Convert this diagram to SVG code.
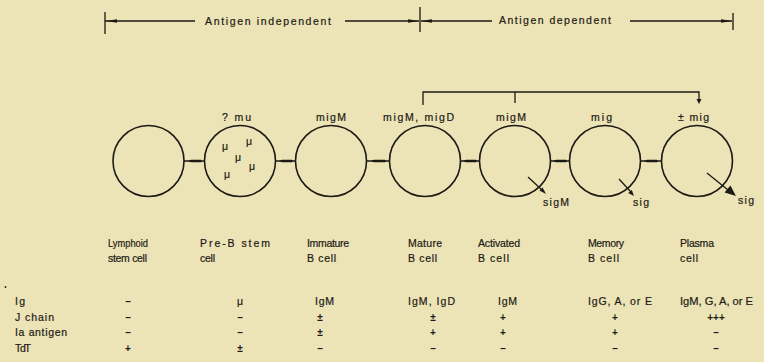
<svg xmlns="http://www.w3.org/2000/svg" width="764" height="362" viewBox="0 0 764 362">
  <style>
    text { font-family: "Liberation Sans", Arial, sans-serif; font-size: 10.5px; fill: #1c1a14; stroke: #1c1a14; stroke-width: 0.2; }
    .cell { fill: none; stroke: #1c1a14; stroke-width: 1.6; }
    .ln { fill: none; stroke: #1c1a14; stroke-width: 1.3; }
    .ink { fill: #1c1a14; stroke: none; }
    .mid { text-anchor: middle; }
    .sign { font-size: 10px; font-weight: bold; text-anchor: middle; stroke: none; }
  </style>
  <rect width="764" height="362" fill="#ECE3B6"/>

  <!-- phase scale across the top -->
  <g id="phase-scale">
    <path class="ln" d="M105,12 V34 M105,21 H195 M345,21 H419 M420,7 V32 M421,21 H492 M630,21 H732 M733,13 V30"/>
    <polygon class="ink" points="106,21 117,19.3 117,22.7"/>
    <polygon class="ink" points="419,21 408,19.3 408,22.7"/>
    <polygon class="ink" points="421,21 432,19.3 432,22.7"/>
    <polygon class="ink" points="732,21 721,19.3 721,22.7"/>
    <text x="205" y="24.5" textLength="126" lengthAdjust="spacing">Antigen  independent</text>
    <text x="499" y="24" textLength="112" lengthAdjust="spacing">Antigen dependent</text>
  </g>

  <!-- bracket over the antigen dependent cells -->
  <g id="bracket">
    <path class="ln" d="M423,105 V92 H699 V100 M515,92 V103"/>
    <polygon class="ink" points="696.5,99 701.5,99 699,104"/>
  </g>

  <!-- connectors between successive cells -->
  <g id="connectors">
    <path class="ln" d="M184,161 H205 M276,161 H296 M367,161 H390 M461,161 H480 M551,161 H570 M641,161 H662"/>
    <path class="ink" d="M188,161 L191,159.7 H201 L202,161 L201,162.3 H191 Z"/>
    <path class="ink" d="M279,161 L282,159.7 H292 L293,161 L292,162.3 H282 Z"/>
    <path class="ink" d="M371,161 L374,159.7 H385 L386,161 L385,162.3 H374 Z"/>
    <path class="ink" d="M463,161 L466,159.7 H476 L477,161 L476,162.3 H466 Z"/>
    <path class="ink" d="M553,161 L556,159.7 H566 L567,161 L566,162.3 H556 Z"/>
    <path class="ink" d="M644,161 L647,159.7 H657 L658,161 L657,162.3 H647 Z"/>
    <!-- secretion arrows -->
    <path class="ln" d="M528,177 L542,190"/>
    <polygon class="ink" points="546,194 539.4,190.6 542.6,187.4"/>
    <path class="ln" d="M619,179 L631,192" stroke-width="1.8"/>
    <polygon class="ink" points="634,196 628.2,193.1 631.8,189.9"/>
    <path class="ln" d="M707,173 L728,190" stroke-width="3.6"/>
    <polygon class="ink" points="736,196 724.6,192.5 730.4,185.5"/>
  </g>

  <g id="lymphoid-stem-cell">
    <circle class="cell" cx="148.5" cy="161" r="35.5"/>
    <text x="108" y="247" textLength="40" lengthAdjust="spacingAndGlyphs">Lymphoid</text>
    <text x="108" y="262" textLength="39" lengthAdjust="spacing">stem cell</text>
  </g>

  <g id="pre-b-stem-cell">
    <circle class="cell" cx="240" cy="161" r="35.5"/>
    <text x="222" y="121" textLength="29" lengthAdjust="spacing">? mu</text>
    <text class="mid" x="225" y="150">μ</text>
    <text class="mid" x="249" y="145">μ</text>
    <text class="mid" x="238" y="161">μ</text>
    <text class="mid" x="252" y="170">μ</text>
    <text class="mid" x="227" y="178">μ</text>
    <text x="200" y="247" textLength="70" lengthAdjust="spacing">Pre-B  stem</text>
    <text x="200" y="262" textLength="15" lengthAdjust="spacing">cell</text>
  </g>

  <g id="immature-b-cell">
    <circle class="cell" cx="331" cy="161" r="35.5"/>
    <text x="316" y="121" textLength="30" lengthAdjust="spacing">migM</text>
    <text x="307" y="247" textLength="42" lengthAdjust="spacing">Immature</text>
    <text x="307" y="262" textLength="29" lengthAdjust="spacing">B cell</text>
  </g>

  <g id="mature-b-cell">
    <circle class="cell" cx="425" cy="161" r="35.5"/>
    <text x="383" y="121" textLength="71" lengthAdjust="spacing">migM, migD</text>
    <text x="408" y="247" textLength="34" lengthAdjust="spacing">Mature</text>
    <text x="408" y="262" textLength="29" lengthAdjust="spacing">B cell</text>
  </g>

  <g id="activated-b-cell">
    <circle class="cell" cx="515" cy="161" r="35.5"/>
    <text x="496" y="121" textLength="30" lengthAdjust="spacing">migM</text>
    <text x="543" y="206" textLength="26" lengthAdjust="spacing">sigM</text>
    <text x="478" y="247" textLength="42" lengthAdjust="spacing">Activated</text>
    <text x="478" y="262" textLength="31" lengthAdjust="spacing">B cell</text>
  </g>

  <g id="memory-b-cell">
    <circle class="cell" cx="605" cy="161" r="35.5"/>
    <text x="591" y="121" textLength="21" lengthAdjust="spacing">mig</text>
    <text x="633" y="206" textLength="16" lengthAdjust="spacing">sig</text>
    <text x="588" y="247" textLength="36" lengthAdjust="spacing">Memory</text>
    <text x="588" y="262" textLength="31" lengthAdjust="spacing">B cell</text>
  </g>

  <g id="plasma-cell">
    <circle class="cell" cx="697" cy="161" r="35.5"/>
    <text x="678" y="121" textLength="31" lengthAdjust="spacing">± mig</text>
    <text x="738" y="204" textLength="16" lengthAdjust="spacing">sig</text>
    <text x="680" y="247" textLength="34" lengthAdjust="spacing">Plasma</text>
    <text x="680" y="262" textLength="18" lengthAdjust="spacing">cell</text>
  </g>

  <!-- marker table -->
  <g id="marker-table">
    <circle class="ink" cx="5.5" cy="287" r="0.9"/>
    <text x="15" y="305" textLength="10" lengthAdjust="spacing">Ig</text>
    <text x="15" y="320.5" textLength="39" lengthAdjust="spacing">J chain</text>
    <text x="15" y="336" textLength="52" lengthAdjust="spacing">Ia antigen</text>
    <text x="15" y="351.5" textLength="16" lengthAdjust="spacing">TdT</text>

    <text class="sign" x="128" y="305">–</text>
    <text class="sign" x="128" y="320.5">–</text>
    <text class="sign" x="128" y="336">–</text>
    <text class="sign" x="128" y="351.5">+</text>

    <text class="mid" x="240" y="305">μ</text>
    <text class="sign" x="240" y="320.5">–</text>
    <text class="sign" x="240" y="336">–</text>
    <text class="sign" x="240" y="351.5">±</text>

    <text x="315" y="305" textLength="19" lengthAdjust="spacing">IgM</text>
    <text class="sign" x="320" y="320.5">±</text>
    <text class="sign" x="320" y="336">±</text>
    <text class="sign" x="320" y="351.5">–</text>

    <text x="408" y="305" textLength="47" lengthAdjust="spacing">IgM, IgD</text>
    <text class="sign" x="433" y="320.5">±</text>
    <text class="sign" x="433" y="336">+</text>
    <text class="sign" x="433" y="351.5">–</text>

    <text x="498" y="305" textLength="19" lengthAdjust="spacing">IgM</text>
    <text class="sign" x="503" y="320.5">+</text>
    <text class="sign" x="503" y="336">+</text>
    <text class="sign" x="503" y="351.5">–</text>

    <text x="588" y="305" textLength="64" lengthAdjust="spacing">IgG, A, or E</text>
    <text class="sign" x="615" y="320.5">+</text>
    <text class="sign" x="615" y="336">+</text>
    <text class="sign" x="615" y="351.5">–</text>

    <text x="680" y="305" textLength="73" lengthAdjust="spacingAndGlyphs">IgM, G, A, or E</text>
    <text class="sign" x="716" y="320.5">+++</text>
    <text class="sign" x="716" y="336">–</text>
    <text class="sign" x="716" y="351.5">–</text>
  </g>
</svg>
